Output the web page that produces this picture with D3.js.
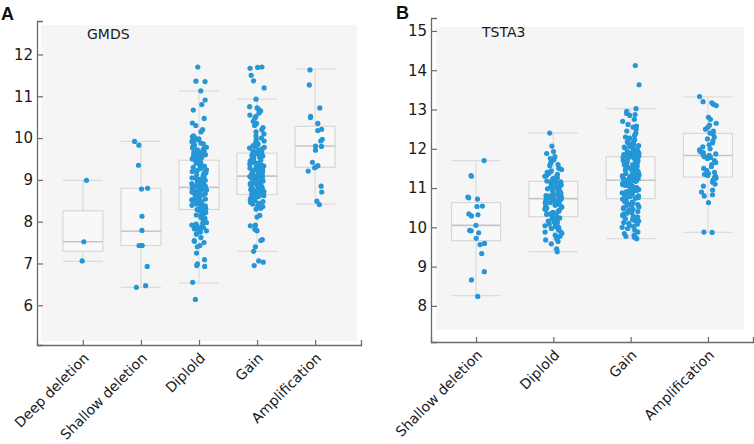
<!DOCTYPE html>
<html><head><meta charset="utf-8">
<script src="https://cdn.jsdelivr.net/npm/d3@7"></script>
<style>
html,body{margin:0;padding:0;background:#fff;}
svg{display:block;}
</style></head>
<body>
<svg id="chart" width="754" height="444"></svg>
<script>
// ---------------- DATA ----------------
const categoriesA = ["Deep deletion", "Shallow deletion", "Diplold", "Gain", "Amplification"];
const whiskerLowA = [7.05, 6.43, 6.53, 7.29, 8.42];
const q1A         = [7.29, 7.43, 8.29, 8.65, 9.30];
const medianA     = [7.52, 7.77, 8.82, 9.09, 9.81];
const q3A         = [8.26, 8.80, 9.47, 9.64, 10.28];
const whiskerHighA= [8.99, 9.92, 11.13, 10.93, 11.65];

const deepDeletionA = [8.99, 7.52, 7.06];
const shallowDeletionA = [9.92, 9.83, 9.35, 8.80, 8.78, 8.13, 7.79, 7.43, 7.43, 7.43, 6.93, 6.47, 6.43];
const diploidA = [
 11.70, 11.36, 11.35, 11.13, 10.91, 10.80, 10.67, 10.47, 10.36, 10.30, 10.20, 10.15, 10.05, 10.03, 10.01,
 9.98, 9.96, 9.94, 9.92, 9.90, 9.88, 9.86, 9.84, 9.82, 9.80, 9.78, 9.76, 9.74, 9.72, 9.70,
 9.68, 9.66, 9.65, 9.63, 9.61, 9.60, 9.58, 9.57, 9.55, 9.54, 9.53, 9.51, 9.50, 9.49, 9.48,
 9.46, 9.45, 9.43, 9.42, 9.40, 9.38, 9.37, 9.35, 9.33, 9.31, 9.30, 9.28, 9.26, 9.24, 9.22,
 9.20, 9.19, 9.17, 9.15, 9.13, 9.12, 9.10, 9.08, 9.06, 9.05, 9.03, 9.01, 9.00, 8.99, 8.97,
 8.96, 8.94, 8.93, 8.92, 8.91, 8.90, 8.89, 8.88, 8.87, 8.86, 8.85, 8.85, 8.84, 8.83, 8.83,
 8.81, 8.80, 8.79, 8.78, 8.77, 8.76, 8.75, 8.73, 8.72, 8.71, 8.70, 8.68, 8.67, 8.66, 8.64,
 8.63, 8.61, 8.60, 8.58, 8.57, 8.55, 8.54, 8.52, 8.51, 8.49, 8.48, 8.46, 8.45, 8.44, 8.42,
 8.41, 8.40, 8.39, 8.38, 8.37, 8.36, 8.35, 8.34, 8.33, 8.32, 8.31, 8.31, 8.30, 8.30, 8.29,
 8.28, 8.26, 8.24, 8.22, 8.20, 8.18, 8.16, 8.14, 8.12, 8.10, 8.08, 8.05, 8.03, 8.01, 7.98,
 7.96, 7.94, 7.92, 7.90, 7.89, 7.88, 7.87, 7.86, 7.85, 7.84, 7.83, 7.82, 7.80, 7.78, 7.75,
 7.70, 7.62, 7.55, 7.53, 7.50, 7.43, 7.40, 7.25, 7.09, 6.99, 6.95, 6.93, 6.55, 6.14];
const gainA = [
 11.70, 11.69, 11.67, 11.50, 11.37, 11.20, 10.93, 10.75, 10.72, 10.70, 10.65, 10.60, 10.55, 10.52, 10.48,
 10.40, 10.35, 10.30, 10.25, 10.20, 10.15, 10.10, 10.05, 10.00, 9.97, 9.93, 9.90, 9.87, 9.85, 9.82,
 9.80, 9.78, 9.76, 9.74, 9.72, 9.70, 9.69, 9.68, 9.66, 9.65,
 9.63, 9.62, 9.60, 9.58, 9.57, 9.55, 9.53, 9.52, 9.50, 9.48, 9.47, 9.45, 9.43, 9.42, 9.40,
 9.38, 9.36, 9.35, 9.33, 9.31, 9.30, 9.28, 9.26, 9.25, 9.23, 9.22, 9.20, 9.19, 9.18, 9.16,
 9.15, 9.14, 9.13, 9.12, 9.11, 9.11, 9.10, 9.10, 9.09, 9.09,
 9.08, 9.07, 9.06, 9.05, 9.04, 9.03, 9.02, 9.00, 8.99, 8.97, 8.96, 8.95, 8.93, 8.92, 8.90,
 8.89, 8.88, 8.86, 8.85, 8.84, 8.82, 8.81, 8.80, 8.79, 8.78, 8.77, 8.76, 8.75, 8.74, 8.73,
 8.72, 8.71, 8.70, 8.69, 8.68, 8.67, 8.67, 8.66, 8.66, 8.65,
 8.64, 8.62, 8.60, 8.58, 8.56, 8.54, 8.52, 8.50, 8.48, 8.46, 8.44, 8.42, 8.40, 8.38, 8.36,
 8.34, 8.32, 8.30, 8.15, 8.11, 7.92, 7.90, 7.82, 7.80, 7.78, 7.57, 7.55, 7.40, 7.29, 7.06,
 7.03, 6.95];
const amplificationA = [11.63, 11.27, 10.72, 10.52, 10.49, 10.35, 10.21, 10.18, 9.97, 9.93, 9.81, 9.80,
 9.71, 9.42, 9.34, 9.31, 9.29, 9.21, 8.85, 8.71, 8.49, 8.41];
const pointsA = [deepDeletionA, shallowDeletionA, diploidA, gainA, amplificationA];
const yTicksA = [6, 7, 8, 9, 10, 11, 12];

const categoriesB = ["Shallow deletion", "Diplold", "Gain", "Amplification"];
const whiskerLowB = [8.26, 9.38, 9.71, 9.87];
const q1B         = [9.66, 10.27, 10.73, 11.28];
const medianB     = [10.05, 10.73, 11.20, 11.83];
const q3B         = [10.63, 11.17, 11.80, 12.39];
const whiskerHighB= [11.70, 12.40, 13.02, 13.32];

const shallowDeletionB = [11.70, 11.32, 11.30, 10.77, 10.75, 10.72, 10.54, 10.53, 10.34, 10.32, 10.29,
 10.05, 9.92, 9.91, 9.86, 9.72, 9.59, 9.56, 9.33, 8.87, 8.66, 8.24];
const diploidB = [
 12.40, 12.07, 11.93, 11.88, 11.80, 11.75, 11.72, 11.68, 11.63, 11.60, 11.57, 11.52, 11.50, 11.47, 11.44,
 11.42, 11.40, 11.37, 11.35, 11.32, 11.30, 11.28, 11.26, 11.24, 11.22, 11.20, 11.19, 11.18,
 11.16, 11.15, 11.13, 11.12, 11.10, 11.08, 11.07, 11.05, 11.03, 11.02, 11.00, 10.98, 10.96, 10.95, 10.93,
 10.91, 10.90, 10.88, 10.86, 10.84, 10.83, 10.81, 10.80, 10.78, 10.77, 10.76, 10.75, 10.74,
 10.72, 10.70, 10.69, 10.67, 10.65, 10.63, 10.62, 10.60, 10.58, 10.56, 10.55, 10.53, 10.51, 10.49, 10.47,
 10.45, 10.43, 10.41, 10.40, 10.38, 10.36, 10.34, 10.33, 10.31, 10.30, 10.29, 10.28, 10.27,
 10.26, 10.24, 10.22, 10.20, 10.18, 10.16, 10.14, 10.12, 10.10, 10.08, 10.06, 10.04, 10.02, 10.00, 9.97,
 9.94, 9.91, 9.88, 9.85, 9.80, 9.77, 9.74, 9.71, 9.68, 9.64, 9.58, 9.45, 9.38];
const gainB = [
 14.12, 13.63, 13.02, 12.95, 12.90, 12.87, 12.85, 12.75, 12.70, 12.62, 12.58, 12.55, 12.50, 12.45, 12.40,
 12.37, 12.33, 12.30, 12.27, 12.23, 12.20, 12.18, 12.15, 12.12, 12.10, 12.08, 12.06, 12.04, 12.02, 12.00,
 11.98, 11.96, 11.95, 11.93, 11.92, 11.90, 11.89, 11.88, 11.87, 11.86, 11.85, 11.84, 11.83, 11.82, 11.81,
 11.79, 11.77, 11.76, 11.74, 11.73, 11.71, 11.70, 11.68, 11.67, 11.65, 11.64, 11.62, 11.60, 11.59, 11.57,
 11.56, 11.54, 11.52, 11.51, 11.49, 11.48, 11.46, 11.45, 11.43, 11.42, 11.40, 11.39, 11.37, 11.36, 11.34,
 11.33, 11.31, 11.30, 11.29, 11.28, 11.27, 11.26, 11.25, 11.24, 11.23, 11.22, 11.22, 11.21, 11.21, 11.20,
 11.19, 11.18, 11.17, 11.16, 11.15, 11.14, 11.13, 11.12, 11.11, 11.10, 11.09, 11.08, 11.07, 11.06, 11.05,
 11.04, 11.03, 11.02, 11.01, 11.00, 10.99, 10.98, 10.97, 10.96, 10.95, 10.94, 10.93, 10.92, 10.91, 10.90,
 10.89, 10.88, 10.87, 10.86, 10.85, 10.84, 10.83, 10.82, 10.81, 10.80, 10.79, 10.78, 10.76, 10.75, 10.74,
 10.72, 10.70, 10.68, 10.66, 10.64, 10.62, 10.60, 10.58, 10.56, 10.54, 10.52, 10.50, 10.48, 10.46, 10.44,
 10.42, 10.40, 10.38, 10.36, 10.34, 10.32, 10.30, 10.28, 10.26, 10.24, 10.22, 10.20, 10.18, 10.16, 10.14,
 10.12, 10.10, 10.08, 10.05, 10.02, 10.00, 9.97, 9.93, 9.88, 9.84, 9.80, 9.77, 9.75, 9.73, 9.71];
const amplificationB = [13.33, 13.20, 13.17, 13.13, 13.10, 12.80, 12.75, 12.65, 12.60, 12.55, 12.50, 12.45,
 12.40, 12.38, 12.30, 12.25, 12.20, 12.15, 12.10, 12.05, 12.00, 11.97, 11.93, 11.90, 11.87, 11.85, 11.83,
 11.80, 11.78, 11.75, 11.70, 11.65, 11.60, 11.55, 11.50, 11.45, 11.40, 11.37, 11.35, 11.32, 11.30, 11.28,
 11.25, 11.20, 11.15, 11.10, 11.05, 10.95, 10.90, 10.83, 10.80, 10.63, 9.88, 9.87];
const pointsB = [shallowDeletionB, diploidB, gainB, amplificationB];
const yTicksB = [8, 9, 10, 11, 12, 13, 14, 15];

// ---------------- DRAW ----------------
const svg = d3.select("#chart");
const FONT = "'DejaVu Sans', Verdana, sans-serif";
const AXIS = "#6b6b6b";
const DOT = "#2596d6";

// deterministic horizontal jitter (layout only, not data)
function jitter(k, i) {
  const s = Math.sin((k + 1) * 12.9898 + (i + 1) * 78.233) * 43758.5453;
  return s - Math.floor(s);
}

function panel(cfg) {
  const g = svg.append("g");
  const x = d3.scalePoint().domain(cfg.cats).range([cfg.x0, cfg.x1]).padding(cfg.pad);
  const y = d3.scaleLinear().domain(cfg.ydom).range([cfg.y1, cfg.y0]);

  g.append("rect").attr("x", cfg.bg[0]).attr("y", cfg.bg[1])
    .attr("width", cfg.bg[2] - cfg.bg[0]).attr("height", cfg.bg[3] - cfg.bg[1])
    .attr("fill", "#f5f5f5");

  const bw = cfg.boxW;
  cfg.cats.forEach((c, i) => {
    const cx = x(c);
    const bx = g.append("g");
    bx.append("line").attr("x1", cx).attr("x2", cx).attr("y1", y(cfg.hi[i])).attr("y2", y(cfg.q3[i]))
      .attr("stroke", "#dcdcdc").attr("stroke-width", 1.2);
    bx.append("line").attr("x1", cx).attr("x2", cx).attr("y1", y(cfg.q1[i])).attr("y2", y(cfg.lo[i]))
      .attr("stroke", "#dcdcdc").attr("stroke-width", 1.2);
    [cfg.hi[i], cfg.lo[i]].forEach(v => {
      bx.append("line").attr("x1", cx - bw / 2).attr("x2", cx + bw / 2).attr("y1", y(v)).attr("y2", y(v))
        .attr("stroke", "#dcdcdc").attr("stroke-width", 1.2);
    });
    bx.append("rect").attr("x", cx - bw / 2).attr("y", y(cfg.q3[i]))
      .attr("width", bw).attr("height", y(cfg.q1[i]) - y(cfg.q3[i]))
      .attr("fill", "#f8f8f8").attr("stroke", "#d8d8d8").attr("stroke-width", 1.2);
    bx.append("line").attr("x1", cx - bw / 2).attr("x2", cx + bw / 2)
      .attr("y1", y(cfg.med[i])).attr("y2", y(cfg.med[i]))
      .attr("stroke", "#c6c6c6").attr("stroke-width", 1.6);
  });

  cfg.cats.forEach((c, i) => {
    const cx = x(c);
    g.append("g").selectAll("circle").data(cfg.pts[i]).join("circle")
      .attr("cx", (d, k) => cx + (jitter(k, i + cfg.seed) - 0.5) * 2 * cfg.jit)
      .attr("cy", d => y(d))
      .attr("r", 2.6)
      .attr("fill", DOT);
  });

  const ya = g.append("g").attr("transform", `translate(${cfg.x0},0)`)
    .call(d3.axisLeft(y).tickValues(cfg.yticks).tickSizeInner(-6).tickSizeOuter(-6).tickPadding(4));
  const xa = g.append("g").attr("transform", `translate(0,${cfg.y1})`)
    .call(d3.axisBottom(x).tickSizeInner(-5).tickSizeOuter(-5).tickFormat(""));
  [ya, xa].forEach(a => {
    a.select(".domain").attr("stroke", AXIS).attr("stroke-width", 1.3);
    a.selectAll(".tick line").attr("stroke", AXIS).attr("stroke-width", 1.2);
  });
  ya.selectAll(".tick text").attr("font-family", FONT).attr("font-size", 15).attr("fill", "#1a1a1a");

  g.append("g").selectAll("text").data(cfg.cats).join("text")
    .attr("transform", d => `translate(${x(d) + 7},${cfg.y1 + 14}) rotate(-45)`)
    .attr("text-anchor", "end")
    .attr("font-family", FONT).attr("font-size", 14).attr("fill", "#1a1a1a")
    .text(d => d);

  g.append("text").attr("x", cfg.title[0]).attr("y", cfg.title[1])
    .attr("font-family", FONT).attr("font-size", 14).attr("fill", "#1a1a1a").text(cfg.titleText);
  g.append("text").attr("x", cfg.letter[0]).attr("y", cfg.letter[1])
    .attr("font-family", "'Liberation Sans', Arial, sans-serif").attr("font-weight", "bold")
    .attr("font-size", 18).attr("fill", "#111").text(cfg.letterText);
}

panel({
  cats: categoriesA, x0: 37, x1: 361, pad: 0.79, y0: 21, y1: 345, ydom: [5.05, 12.8],
  bg: [41, 25, 357, 341], boxW: 40, jit: 7.5, seed: 0,
  lo: whiskerLowA, q1: q1A, med: medianA, q3: q3A, hi: whiskerHighA,
  pts: pointsA, yticks: yTicksA,
  title: [87, 39], titleText: "GMDS", letter: [1, 20], letterText: "A"
});
panel({
  cats: categoriesB, x0: 431, x1: 753, pad: 0.583, y0: 18, y1: 342, ydom: [7.08, 15.33],
  bg: [436, 27, 744, 330], boxW: 49, jit: 8.5, seed: 7,
  lo: whiskerLowB, q1: q1B, med: medianB, q3: q3B, hi: whiskerHighB,
  pts: pointsB, yticks: yTicksB,
  title: [482, 37], titleText: "TSTA3", letter: [396, 19], letterText: "B"
});
</script>
</body></html>
